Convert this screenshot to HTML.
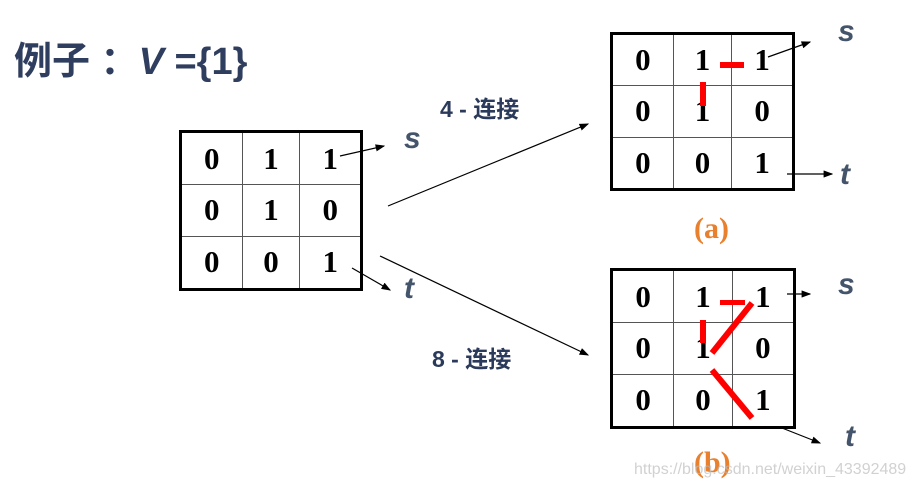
<!DOCTYPE html>
<html><head><meta charset="utf-8"><style>
body{margin:0;background:#fff;width:915px;height:491px;overflow:hidden;position:relative;font-family:"Liberation Sans","Noto Sans CJK SC",sans-serif}
.t{position:absolute;white-space:nowrap}
table{position:absolute;border-collapse:collapse;border:3px solid #000}
td{border:1.5px solid #555;text-align:center;font-family:"Liberation Serif",serif;font-weight:bold;font-size:31px;padding:0}
.st{position:absolute;font-style:italic;font-weight:bold;color:#44546a;font-size:30px}
.lb{position:absolute;color:#2b3a5a;font-weight:bold;font-size:23px;white-space:nowrap}
.ab{position:absolute;color:#e8802e;font-family:"Liberation Serif",serif;font-weight:bold;font-size:30px}
</style></head><body>
<div class="t" style="left:14px;top:30px;font-size:38px;font-weight:bold;color:#2f3e5e">例子 ：<i>V</i> ={1}</div>

<table style="left:179px;top:130px;width:184px;height:161px"><tr><td>0</td><td>1</td><td>1</td></tr><tr><td>0</td><td>1</td><td>0</td></tr><tr><td>0</td><td>0</td><td>1</td></tr></table>
<table style="left:610px;top:32px;width:185px;height:159px"><tr><td>0</td><td>1</td><td>1</td></tr><tr><td>0</td><td>1</td><td>0</td></tr><tr><td>0</td><td>0</td><td>1</td></tr></table>
<table style="left:610px;top:268px;width:186px;height:161px"><tr><td>0</td><td>1</td><td>1</td></tr><tr><td>0</td><td>1</td><td>0</td></tr><tr><td>0</td><td>0</td><td>1</td></tr></table>

<div class="st" style="left:404px;top:122px">s</div>
<div class="st" style="left:404px;top:272px">t</div>
<div class="st" style="left:838px;top:15px">s</div>
<div class="st" style="left:840px;top:158px">t</div>
<div class="st" style="left:838px;top:268px">s</div>
<div class="st" style="left:845px;top:420px">t</div>
<div class="lb" style="left:440px;top:90px">4 - 连接</div>
<div class="lb" style="left:432px;top:340px">8 - 连接</div>
<div class="ab" style="left:694px;top:212px">(a)</div>
<div class="ab" style="left:694px;top:446px">(b)</div>
<div class="t" style="left:634px;top:461px;font-size:16px;color:rgba(190,190,190,0.7)">https://blog.csdn.net/weixin_43392489</div>

<svg width="915" height="491" style="position:absolute;left:0;top:0">
<defs><marker id="m" markerWidth="8" markerHeight="6" refX="7" refY="3" orient="auto"><path d="M0,0L8,3L0,6z" fill="#000"/></marker></defs>
<g stroke="#000" stroke-width="1.2" marker-end="url(#m)">
<line x1="340" y1="156" x2="384" y2="146"/>
<line x1="352" y1="268" x2="390" y2="290"/>
<line x1="388" y1="206" x2="588" y2="124"/>
<line x1="380" y1="256" x2="588" y2="355"/>
<line x1="768" y1="57" x2="810" y2="42"/>
<line x1="787" y1="174" x2="832" y2="174"/>
<line x1="787" y1="294" x2="810" y2="294"/>
<line x1="782" y1="428" x2="820" y2="443"/>
</g>
<g fill="#f00">
<rect x="720" y="62" width="24" height="6"/>
<rect x="700" y="82" width="6" height="24"/>
<rect x="720" y="300" width="25" height="5"/>
<rect x="700" y="320" width="6" height="23"/>
</g>
<g stroke="#f00" stroke-width="6">
<line x1="752" y1="303" x2="712" y2="353"/>
<line x1="712" y1="370" x2="752" y2="418"/>
</g>
</svg>
</body></html>
